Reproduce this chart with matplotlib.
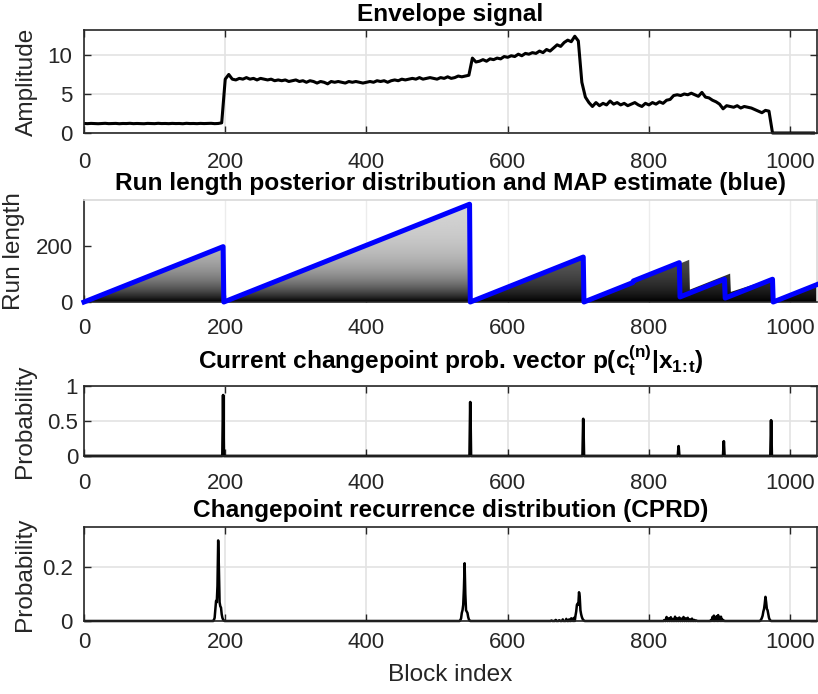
import numpy as np
import matplotlib
matplotlib.use('Agg')
import matplotlib.pyplot as plt
from matplotlib.patches import Polygon

plt.rcParams['font.family'] = ['Liberation Sans', 'DejaVu Sans']
plt.rcParams['mathtext.fontset'] = 'custom'
plt.rcParams['mathtext.rm'] = 'Liberation Sans'
plt.rcParams['mathtext.bf'] = 'Liberation Sans:bold'
plt.rcParams['mathtext.it'] = 'Liberation Sans:italic'

n_blocks = 1038

# envelope amplitude, one value every 5 blocks
env_step = 5
env_amp = [1.22, 1.20, 1.23, 1.21, 1.19, 1.22, 1.24, 1.20, 1.21, 1.23,
           1.19, 1.22, 1.21, 1.24, 1.20, 1.22, 1.21, 1.19, 1.23, 1.22,
           1.20, 1.24, 1.21, 1.22, 1.20, 1.23, 1.21, 1.22, 1.19, 1.24,
           1.21, 1.22, 1.20, 1.23, 1.21, 1.22, 1.24, 1.20, 1.22,
           1.30, 6.9, 7.5, 6.9, 6.8, 7.0, 6.9, 7.1, 6.9, 7.0, 6.8, 7.0, 6.9, 6.8, 6.9, 6.7, 6.8, 6.7, 6.8, 6.6,
           6.7, 6.8, 6.6, 6.7, 6.5, 6.7, 6.6, 6.4, 6.6, 6.5, 6.3, 6.6, 6.5, 6.6, 6.5, 6.4, 6.6, 6.5, 6.6, 6.5,
           6.4, 6.5, 6.6, 6.5, 6.7, 6.6, 6.7, 6.5, 6.7, 6.8, 6.7, 6.9, 6.8, 6.9, 7.0, 6.9, 7.1, 6.9, 7.0, 7.1,
           7.0, 6.9, 7.1, 7.0, 7.2, 7.0, 7.1, 7.3, 7.2, 7.3, 7.4, 9.6, 9.1, 9.2, 9.4, 9.2, 9.5, 9.4, 9.6, 9.5,
           9.8, 9.7, 9.9, 9.8, 10.1, 9.9, 10.2, 10.1, 10.3, 10.2, 10.5, 10.3, 10.7, 10.5, 10.9, 11.3, 11.1, 11.6, 11.9, 11.7,
           12.4, 11.8, 6.5, 4.6, 3.9, 3.4, 3.9, 3.5, 3.8, 3.6, 4.1, 3.7, 3.9, 3.6, 3.8, 3.5, 3.7, 3.9, 3.6, 3.4,
           3.8, 3.6, 3.9, 3.7, 4.0, 3.8, 4.2, 4.3, 4.8, 4.9, 4.8, 5.0, 4.9, 5.1, 4.9, 4.7, 5.2, 4.6, 4.5, 4.2,
           4.0, 3.7, 3.1, 3.5, 3.4, 3.3, 3.5, 3.2, 3.4, 3.3, 3.2, 3.0, 2.8, 2.6, 2.9, 2.8, 0, 0, 0, 0,
           0, 0, 0, 0, 0, 0, 0, 0, 0]

# MAP run length estimate (sawtooth vertices)
map_block = [0, 197, 198, 546, 547, 707, 708, 777, 778, 843, 844, 907, 908, 975, 976, 1038]
map_run = [0, 197, 0, 348, 0, 160, 0, 69, 75, 140, 18, 81, 14, 81, 0, 62]

# upper edge of the run length posterior support
post_block = [0, 197, 198, 546, 547, 707, 708, 857, 858, 915, 916, 975, 976, 1038]
post_run = [0, 197, 0, 348, 0, 160, 0, 150, 44, 101, 36, 84, 0, 62]

# brightness of the posterior shading in each run
seg_start = [0, 198, 547, 708, 858, 916, 976]
seg_gain = [0.8, 0.85, 0.42, 0.35, 0.3, 0.3, 0.3]

# current changepoint probability
cp_block = [197, 547, 707, 842, 906, 973]
cp_prob = [0.87, 0.77, 0.53, 0.14, 0.21, 0.51]

# changepoint recurrence distribution (non-zero entries)
cprd_block = [184, 185, 186, 187, 188, 189, 190, 191, 192, 193, 194, 195, 196, 197, 198,
              533, 534, 535, 536, 537, 538, 539, 540, 541, 542, 543, 544, 545, 546,
              662, 668, 673, 678, 683, 687, 690, 692, 694, 696, 697, 698, 699, 700, 701, 702,
              703, 704, 705, 706, 707, 708,
              822, 825, 828, 831, 834, 837, 840, 843, 846, 849, 852, 855, 858, 861, 864, 867,
              888, 890, 892, 894, 896, 898, 900, 902, 904, 906,
              958, 959, 960, 961, 962, 963, 964, 965, 966, 967, 968, 969, 970, 971, 972]
cprd_prob = [0.004, 0.012, 0.045, 0.075, 0.07, 0.13, 0.30, 0.2, 0.07, 0.055, 0.05, 0.025, 0.012, 0.005, 0.002,
             0.003, 0.01, 0.03, 0.04, 0.06, 0.12, 0.215, 0.1, 0.04, 0.035, 0.03, 0.015, 0.006, 0.002,
             0.002, 0.004, 0.003, 0.006, 0.008, 0.006, 0.01, 0.008, 0.012, 0.02, 0.035, 0.06, 0.065, 0.06, 0.107, 0.09,
             0.04, 0.025, 0.015, 0.008, 0.004, 0.002,
             0.004, 0.015, 0.01, 0.014, 0.008, 0.016, 0.01, 0.013, 0.009, 0.015, 0.01, 0.012, 0.006, 0.009, 0.004, 0.002,
             0.004, 0.015, 0.02, 0.01, 0.018, 0.022, 0.012, 0.016, 0.006, 0.002,
             0.002, 0.006, 0.012, 0.02, 0.035, 0.045, 0.065, 0.09, 0.07, 0.045, 0.04, 0.025, 0.012, 0.005, 0.002]

ink = '#262626'
grid_c = '#e3e3e3'


def style(ax, xpad, ypad):
    ax.set_xlim(0, n_blocks)
    ax.set_xticks(range(0, 1001, 200))
    ax.tick_params(direction='in', length=5, width=1, colors=ink, labelsize=16,
                   top=True, right=True)
    ax.tick_params(axis='x', pad=xpad)
    ax.tick_params(axis='y', pad=ypad)
    ax.grid(True, color=grid_c, lw=1.2)
    ax.set_axisbelow(True)
    for s in ax.spines.values():
        s.set_color(ink)
        s.set_linewidth(1.2)


fig = plt.figure(figsize=(8.18, 6.94), dpi=100)
left, width = 84 / 818, 733 / 818
ax1 = fig.add_axes([left, 0.80836, width, 0.14841])
ax2 = fig.add_axes([left, 0.56484, width, 0.14697])
ax3 = fig.add_axes([left, 0.34294, width, 0.10086])
ax4 = fig.add_axes([left, 0.10519, width, 0.13545])

# envelope
env_block = np.arange(len(env_amp)) * env_step
ax1.plot(env_block, env_amp, color='k', lw=2.2, clip_on=False, solid_capstyle='butt')
style(ax1, 13.5, 8.6)
ax1.set_ylim(0, 13.2)
ax1.set_yticks([0, 5, 10])
ax1.set_title('Envelope signal', fontsize=17.6, fontweight='bold', y=1, pad=6.5)
ax1.set_ylabel('Amplitude', fontsize=17.6, color=ink)
ax1.yaxis.set_label_coords(-0.0623, 0.5)

# run length posterior with MAP estimate
r_max = 363
rr = np.arange(r_max) + 0.5
tt = np.arange(n_blocks) + 0.5
gain = np.array(seg_gain)[np.searchsorted(seg_start, tt, side='right') - 1]
shade = gain[None, :] * (1 - np.exp(-rr[:, None] / 90.0))
im = ax2.imshow(shade, cmap='gray', vmin=0, vmax=1, origin='lower',
                extent=[0, n_blocks, 0, r_max], aspect='auto',
                interpolation='bilinear', zorder=1)
support = Polygon(np.column_stack([post_block + [n_blocks, 0], post_run + [0, 0]]),
                  closed=True, transform=ax2.transData)
im.set_clip_path(support)
ax2.plot(map_block, map_run, color=(0, 0, 1), lw=3.6, clip_on=False, zorder=3)
style(ax2, 11.5, 8)
ax2.grid(False)
ax2.grid(True, axis='x', color='#ececec', lw=1.0)
ax2.tick_params(top=False, right=False)
ax2.spines['top'].set_color('#d9d9d9')
ax2.spines['right'].set_color('#d9d9d9')
ax2.set_ylim(0, r_max)
ax2.set_yticks([0, 200])
ax2.set_title('Run length posterior distribution and MAP estimate (blue)',
              fontsize=17.6, fontweight='bold', y=1, pad=7)
ax2.set_ylabel('Run length', fontsize=17.6, color=ink)
ax2.yaxis.set_label_coords(-0.0805, 0.5)

# current changepoint probability
cp_series = np.zeros(n_blocks + 1)
cp_series[cp_block] = cp_prob
ax3.plot(np.arange(n_blocks + 1), cp_series, color='k', lw=2, clip_on=False,
         solid_capstyle='butt')
style(ax3, 12, 4.3)
ax3.set_ylim(0, 1)
ax3.set_yticks([0, 0.5, 1])
ax3.set_yticklabels(['0', '0.5', '1'])
ax3.set_title('Current changepoint prob. vector ' + r'$\mathbf{p(c_t^{(n)}|x_{1\!:\!t})}$',
              fontsize=17.6, fontweight='bold', y=1, pad=12)
ax3.set_ylabel('Probability', fontsize=17.6, color=ink)
ax3.yaxis.set_label_coords(-0.066, 0.5)

# changepoint recurrence distribution
cprd_series = np.zeros(n_blocks + 1)
cprd_series[cprd_block] = cprd_prob
ax4.plot(np.arange(n_blocks + 1), cprd_series, color='k', lw=1.8, clip_on=False,
         solid_capstyle='butt')
style(ax4, 7.7, 8)
ax4.set_ylim(0, 0.35)
ax4.set_yticks([0, 0.2])
ax4.set_yticklabels(['0', '0.2'])
ax4.set_title('Changepoint recurrence distribution (CPRD)',
              fontsize=17.6, fontweight='bold', y=1, pad=7)
ax4.set_ylabel('Probability', fontsize=17.6, color=ink)
ax4.yaxis.set_label_coords(-0.065, 0.5)
ax4.set_xlabel('Block index', fontsize=17.6, color=ink)
ax4.xaxis.set_label_coords(0.5, -0.457)

fig.savefig('out.png', dpi=100)
